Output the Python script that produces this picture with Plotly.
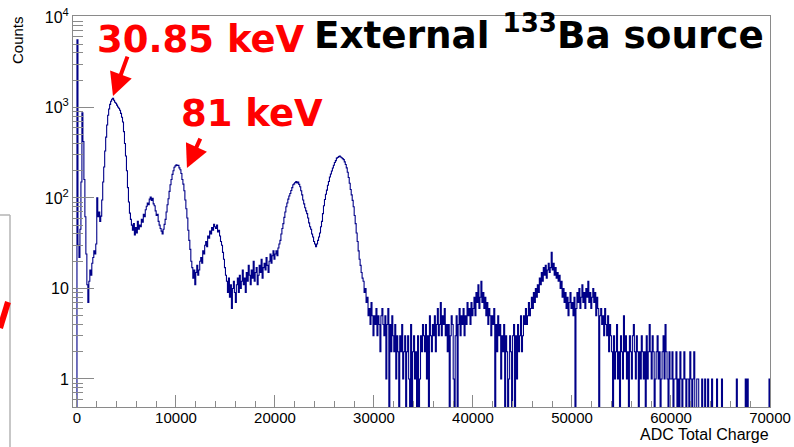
import numpy as np
import plotly.graph_objects as go

# ---- spectrum: counts per 100-ADC bin, 0 .. 70000 ----
bin_width = 100
x_max = 70000

counts_00k_05k = [5600, 30, 22, 45, 150, 870, 420, 160, 62, 24,
                  11, 7, 12, 16, 14, 19, 22, 26, 24, 31,
                  100, 62, 70, 55, 63, 95, 150, 220, 330, 470,
                  640, 820, 960, 1080, 1170, 1230, 1260, 1200, 1140, 1110,
                  1060, 1010, 980, 930, 860, 780, 690, 540, 400, 290]
counts_05k_10k = [200, 130, 90, 68, 58, 50, 44, 52, 39, 47,
                  41, 55, 45, 50, 48, 58, 54, 66, 62, 74,
                  81, 88, 84, 97, 102, 94, 99, 86, 82, 72,
                  64, 66, 55, 50, 46, 43, 40, 45, 51, 58,
                  70, 84, 98, 118, 140, 160, 182, 200, 218, 226]
counts_10k_15k = [232, 228, 230, 215, 205, 186, 160, 142, 120, 95,
                  76, 60, 44, 34, 27, 20, 17, 13, 16, 11,
                  15, 18, 14, 16, 20, 22, 19, 26, 24, 30,
                  33, 29, 38, 36, 43, 40, 47, 44, 51, 48,
                  46, 50, 42, 44, 38, 33, 30, 25, 21, 17]
counts_15k_20k = [14, 12, 9, 13, 8, 11, 6, 10, 12, 9,
                  7, 11, 13, 9, 14, 10, 12, 16, 11, 13,
                  9, 15, 12, 18, 14, 11, 16, 13, 20, 12,
                  15, 17, 11, 14, 18, 15, 21, 13, 17, 19,
                  16, 22, 18, 15, 20, 24, 19, 23, 26, 21]
counts_20k_25k = [24, 26, 23, 28, 31, 34, 40, 46, 52, 61,
                  70, 80, 88, 97, 105, 112, 121, 130, 140, 143,
                  148, 152, 146, 150, 141, 133, 120, 108, 95, 86,
                  78, 72, 67, 60, 53, 48, 45, 40, 37, 33,
                  31, 29, 31, 34, 37, 41, 48, 55, 67, 82]
counts_25k_30k = [96, 110, 122, 138, 152, 170, 184, 198, 214, 230,
                  246, 258, 275, 280, 286, 290, 283, 278, 272, 265,
                  250, 234, 215, 192, 168, 145, 124, 108, 94, 80,
                  64, 52, 41, 33, 26, 21, 18, 15, 13, 12,
                  9, 10, 7, 8, 5, 6, 4, 7, 5, 3]
counts_30k_35k = [5, 4, 6, 3, 5, 4, 2, 5, 6, 4,
                  3, 5, 1, 4, 6, 0, 4, 2, 5, 3,
                  2, 4, 1, 3, 2, 0, 3, 2, 4, 1,
                  2, 3, 0, 2, 3, 1, 0, 4, 0, 2,
                  3, 1, 2, 0, 3, 0, 1, 3, 2, 4]
counts_35k_40k = [3, 2, 4, 1, 3, 0, 5, 3, 2, 4,
                  3, 5, 2, 4, 6, 3, 4, 7, 3, 5,
                  4, 6, 3, 4, 2, 4, 0, 3, 5, 4,
                  1, 0, 3, 5, 0, 4, 6, 3, 5, 4,
                  6, 3, 5, 4, 7, 5, 6, 4, 7, 5]
counts_40k_45k = [6, 8, 5, 9, 7, 11, 6, 8, 12, 7,
                  9, 6, 8, 5, 7, 4, 6, 5, 3, 5,
                  4, 6, 0, 4, 2, 5, 3, 4, 1, 3,
                  2, 4, 0, 3, 2, 0, 1, 3, 2, 0,
                  3, 4, 0, 3, 1, 4, 2, 3, 5, 2]
counts_45k_50k = [3, 5, 4, 6, 4, 5, 7, 5, 6, 8,
                  6, 9, 7, 10, 8, 11, 9, 13, 11, 15,
                  12, 17, 14, 18, 13, 16, 19, 15, 17, 25,
                  16, 19, 14, 17, 13, 15, 12, 14, 10, 12,
                  8, 10, 7, 9, 6, 8, 5, 7, 9, 6]
counts_50k_55k = [7, 5, 8, 0, 6, 9, 7, 10, 6, 8,
                  11, 7, 9, 6, 10, 8, 12, 7, 9, 6,
                  8, 10, 7, 9, 5, 8, 6, 0, 5, 6,
                  4, 5, 3, 6, 4, 3, 5, 2, 4, 3,
                  2, 0, 3, 1, 2, 4, 1, 2, 0, 3]
counts_55k_60k = [2, 1, 5, 2, 3, 1, 2, 0, 3, 2,
                  1, 3, 4, 2, 1, 3, 2, 0, 2, 1,
                  3, 2, 1, 2, 0, 3, 1, 2, 4, 2,
                  1, 3, 2, 0, 1, 2, 3, 1, 2, 0,
                  1, 2, 3, 1, 4, 2, 1, 0, 2, 1]
counts_60k_65k = [1, 2, 0, 1, 1, 2, 0, 1, 0, 2,
                  1, 0, 1, 2, 1, 0, 1, 1, 0, 2,
                  1, 0, 1, 2, 0, 0, 1, 1, 0, 0,
                  0, 1, 0, 0, 1, 0, 0, 1, 0, 0,
                  0, 1, 0, 0, 0, 0, 1, 0, 0, 0]
counts_65k_70k = [0, 1, 0, 0, 0, 0, 0, 0, 0, 0,
                  0, 0, 0, 0, 0, 0, 1, 0, 0, 0,
                  0, 0, 0, 0, 0, 1, 0, 1, 0, 0,
                  0, 0, 0, 0, 0, 0, 0, 0, 0, 0,
                  0, 0, 0, 0, 0, 0, 0, 0, 0, 1]

y_tick_vals = [1, 10, 100, 1000, 10000]
y_tick_text = ["1", "10", "10<sup>2</sup>", "10<sup>3</sup>", "10<sup>4</sup>"]
x_tick_vals = [0, 10000, 20000, 30000, 40000, 50000, 60000, 70000]
x_tick_text = ["0", "10000", "20000", "30000", "40000", "50000", "60000", "70000"]

counts = np.array(counts_00k_05k + counts_05k_10k + counts_10k_15k + counts_15k_20k
                  + counts_20k_25k + counts_25k_30k + counts_30k_35k + counts_35k_40k
                  + counts_40k_45k + counts_45k_50k + counts_50k_55k + counts_55k_60k
                  + counts_60k_65k + counts_65k_70k, dtype=float)

# empty bins sit below the visible log range so the outline drops to the frame
floor = 0.1
shown = np.where(counts > 0, counts, floor)
left_edges = np.arange(len(counts)) * bin_width
xs = np.concatenate([[0], left_edges, [x_max, x_max]])
ys = np.concatenate([[floor], shown, [shown[-1], floor]])

fig = go.Figure()
fig.add_trace(go.Scatter(
    x=xs, y=ys, mode="lines", line=dict(color="#000088", width=1.1, shape="hv"),
    hoverinfo="skip", showlegend=False))

# plot-area geometry (pixels)
W, H = 794, 447
L, R, T, B = 73, 24, 16, 40
pw, ph = W - L - R, H - T - B


def px(xp):
    return (xp - L) / pw


def py(yp):
    return (H - B - yp) / ph


axis_col = "#8a8a8a"
label_font = dict(family="Liberation Sans, Arial, sans-serif", size=15, color="black")

minor_y = [v * d for d in (0.1, 1, 10, 100, 1000) for v in range(2, 10)]
minor_y = [v for v in minor_y if v > 0.45 and v < 10000]

fig.update_layout(
    width=W, height=H,
    margin=dict(l=L, r=R, t=T, b=B, autoexpand=False),
    plot_bgcolor="white", paper_bgcolor="white",
    xaxis=dict(
        range=[-400, x_max], showgrid=False, zeroline=False, automargin=False,
        showline=True, linecolor=axis_col, linewidth=1, mirror=True,
        ticks="inside", ticklen=12, tickcolor=axis_col, tickwidth=1,
        tickmode="array", tickvals=x_tick_vals, ticktext=x_tick_text,
        tickfont=label_font, ticklabelstandoff=-3,
        minor=dict(ticks="inside", ticklen=6, tickcolor=axis_col, dtick=2000,
                   tick0=0, showgrid=False),
    ),
    yaxis=dict(
        type="log", range=[-0.31, 4.01], showgrid=False, zeroline=False,
        automargin=False,
        showline=True, linecolor=axis_col, linewidth=1, mirror=True,
        ticks="inside", ticklen=21, tickcolor=axis_col, tickwidth=1,
        tickmode="array", tickvals=y_tick_vals, ticktext=y_tick_text,
        tickfont=dict(label_font, size=16),
        minor=dict(ticks="inside", ticklen=10, tickcolor=axis_col,
                   tickmode="array", tickvals=minor_y, showgrid=False),
    ),
)

ann_font = "DejaVu Sans, Verdana, sans-serif"
annotations = [
    dict(text="Counts", x=px(18), y=py(40), xref="paper", yref="paper",
         textangle=-90, showarrow=False, xanchor="center", yanchor="middle",
         font=dict(family=label_font["family"], size=15, color="black")),
    dict(text="ADC Total Charge", x=px(771), y=py(434), xref="paper", yref="paper",
         showarrow=False, xanchor="right", yanchor="middle",
         font=dict(family=label_font["family"], size=16, color="black")),
    dict(text="<b>30.85 keV</b>", x=px(95), y=py(39), xref="paper", yref="paper",
         showarrow=False, xanchor="left", yanchor="middle",
         font=dict(family=ann_font, size=37, color="#ff0000")),
    dict(text="<b>81 keV</b>", x=px(179), y=py(113), xref="paper", yref="paper",
         showarrow=False, xanchor="left", yanchor="middle",
         font=dict(family=ann_font, size=37, color="#ff0000")),
    dict(text="<b>External <sup>133</sup>Ba source</b>", x=px(312), y=py(32),
         xref="paper", yref="paper", showarrow=False, xanchor="left", yanchor="middle",
         font=dict(family=ann_font, size=37.3, color="black")),
    # arrows pointing at the two photopeaks
    dict(text="", x=3640, y=3.125, xref="x", yref="y", showarrow=True,
         ax=15, ay=-41, arrowhead=2, arrowsize=1.15, arrowwidth=4,
         arrowcolor="#ff0000", standoff=0),
    dict(text="", x=11110, y=2.33, xref="x", yref="y", showarrow=True,
         ax=14, ay=-31, arrowhead=2, arrowsize=1.15, arrowwidth=4,
         arrowcolor="#ff0000", standoff=0),
]
fig.update_layout(annotations=annotations)

# neighbouring panel edge on the far left
fig.add_shape(type="line", xref="paper", yref="paper",
              x0=px(0), y0=py(215), x1=px(10), y1=py(215),
              line=dict(color="#b5b5b5", width=1.5))
fig.add_shape(type="line", xref="paper", yref="paper",
              x0=px(10), y0=py(215), x1=px(10), y1=py(447),
              line=dict(color="#b5b5b5", width=1.5))
fig.add_shape(type="line", xref="paper", yref="paper",
              x0=px(8), y0=py(302), x1=px(0), y1=py(328),
              line=dict(color="#ff0000", width=6))

fig.write_html("out.html")
